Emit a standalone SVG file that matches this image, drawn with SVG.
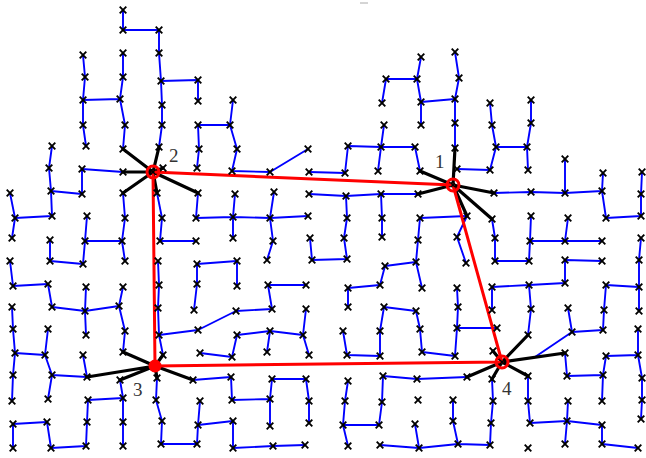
<svg xmlns="http://www.w3.org/2000/svg" xmlns:xlink="http://www.w3.org/1999/xlink" width="646" height="458" viewBox="0 0 646 458">
<style>
.blue{fill:none;stroke:#0000ff;stroke-width:1.9;stroke-linejoin:round;stroke-linecap:round}
.spoke{fill:none;stroke:#000;stroke-width:3.2;stroke-linecap:round}
.red{fill:none;stroke:#ff0000;stroke-width:3;stroke-linejoin:round}
.ring{fill:none;stroke:#ff0000;stroke-width:3}
.lbl{font-family:"Liberation Serif","DejaVu Serif",serif;font-size:19px;fill:#333}
</style>
<defs>
<path id="m" d="M-3.3,-3.3L3.3,3.3M-3.3,3.3L3.3,-3.3" stroke="#000" stroke-width="1.9" fill="none"/>
<path id="hm" d="M-2,-2L2,2M-2,2L2,-2" stroke="#000" stroke-width="1.6" fill="none"/>
</defs>
<rect width="646" height="458" fill="#fff"/>
<line x1="360" y1="3" x2="368" y2="3" stroke="#aaa" stroke-width="1"/>
<g id="connectors">
<path class="blue" d="M123 10L123 30L159 30L159 53L161 81L198 80L198 101
M161 81L162 105L162 125L159 147
M83 55L85 77L83 100L83 125L86 146 M83 100L120 99
M123 53L123 77L120 99L125 125L123 149
M52 146L49 168L51 191L82 194L82 169L123 172
M10 193L15 218L12 238 M15 218L52 216L51 191
M87 216L85 241
M123 193L125 218L122 241L125 261
M157 193L162 218L160 241L196 241
M198 193L196 218L233 217L270 218L308 216
M198 125L199 149L197 168 M198 125L230 125
M233 100L230 125L237 149L232 171L270 172L308 149
M309 172L345 173L348 146L381 147L415 147L420 171
M384 125L381 147L378 171
M382 103L386 79L417 79L421 57 M417 79L421 102L421 125 M421 102L455 99
M455 52L459 78L455 99L455 123L455 148
M457 169L490 170L496 147L492 125L490 103
M496 147L527 147L531 123L531 100 M527 147L528 170
M309 194L346 196L381 194L418 194
M494 193L531 192L565 193L602 191 M565 159L565 193
M603 173L602 191L606 218L641 216L641 194L642 172
M235 194L233 217L233 238
M274 192L270 218L273 241L267 260
M346 196L347 218L344 238L347 259L312 260L310 238
M381 194L382 218L382 237
M420 218L467 216 M420 218L418 240L416 262L385 266L380 285L348 288L348 307
M416 262L422 288
M467 216L457 237L466 263
M492 219L495 238L495 261L529 261L530 241L531 216
M530 241L565 241L602 241 M568 218L565 241
M602 261L565 260L565 283L529 285L492 287L492 310
M529 285L531 309L528 335
M641 238L639 260L639 287L639 311
M606 285L639 287 M568 308L572 332L603 330L604 310L606 285
M572 332L535 357
M638 329L638 355L642 378L642 400L641 419
M606 356L638 355 M565 353L567 376L603 375L606 356 M603 375L602 401
M457 288L458 307L457 328L497 328
M457 328L455 356L422 352L420 329L416 311L384 307L380 331L380 356L347 355L343 331
M10 261L13 286L48 284L52 307L85 311L119 306L123 287
M119 306L125 331L123 352
M86 287L85 311L86 335
M50 240L50 261L83 264L85 241L122 241
M12 307L13 329L15 353L13 375L12 401
M15 353L45 355L48 329 M45 355L52 375L87 377 M52 375L48 399 M83 355L87 377
M120 380L123 398L88 400L87 422L86 446L51 448L47 422L13 424L13 448
M123 398L123 422L123 446
M197 264L237 261L237 286 M197 264L197 284L194 310
M158 261L159 285L158 308L159 335L198 330L236 311L272 309L268 285L306 285
M159 335L163 355
M200 353L232 357L237 335L270 331L303 335L306 309
M270 331L267 352 M303 335L309 355
M193 380L231 377L232 400L270 399L272 379L306 379L309 401L309 423
M270 399L270 426
M157 378L156 400L162 421L161 444L197 444L198 425L200 401
M198 425L233 421L233 448L273 446L305 445
M348 381L345 401L343 425L348 446
M343 425L379 425L382 402L383 376L417 379L467 377
M415 424L419 448L380 445 M419 448L458 444
M453 400L453 421L458 444L490 445L491 423L493 401L492 379
M528 376L528 401L530 423L567 421L602 425L602 444L638 448
M568 401L567 421L565 444"/>
<path class="spoke" d="M153 172L123 149M153 172L159 147M153 172L123 172M153 172L123 193M153 172L198 193M153 172L163 168M153 172L157 193
M453 185L455 148M453 185L420 171M453 185L418 194M453 185L494 193M453 185L467 216M453 185L492 219
M155 366L123 352M155 366L87 377M155 366L120 380M155 366L157 378M155 366L193 380M155 366L163 355
M502 362L528 335M502 362L565 353M502 362L528 376M502 362L492 379M502 362L467 377M502 362L493 351"/>
<path class="red" d="M153 172L453 185L502 362L155 366Z"/>
</g>
<g id="sensors">
<use href="#m" x="10" y="193"/><use href="#m" x="15" y="218"/><use href="#m" x="12" y="238"/><use href="#m" x="10" y="261"/><use href="#m" x="13" y="286"/><use href="#m" x="12" y="307"/><use href="#m" x="13" y="329"/><use href="#m" x="15" y="353"/><use href="#m" x="13" y="375"/><use href="#m" x="12" y="401"/><use href="#m" x="13" y="424"/><use href="#m" x="13" y="448"/>
<use href="#m" x="52" y="146"/><use href="#m" x="49" y="168"/><use href="#m" x="51" y="191"/><use href="#m" x="52" y="216"/><use href="#m" x="50" y="240"/><use href="#m" x="50" y="261"/><use href="#m" x="48" y="284"/><use href="#m" x="52" y="307"/><use href="#m" x="48" y="329"/><use href="#m" x="45" y="355"/><use href="#m" x="52" y="375"/><use href="#m" x="48" y="399"/><use href="#m" x="47" y="422"/><use href="#m" x="51" y="448"/>
<use href="#m" x="83" y="55"/><use href="#m" x="85" y="77"/><use href="#m" x="83" y="100"/><use href="#m" x="83" y="125"/><use href="#m" x="86" y="146"/><use href="#m" x="82" y="169"/><use href="#m" x="82" y="194"/><use href="#m" x="87" y="216"/><use href="#m" x="85" y="241"/><use href="#m" x="83" y="264"/><use href="#m" x="86" y="287"/><use href="#m" x="85" y="311"/><use href="#m" x="86" y="335"/><use href="#m" x="83" y="355"/><use href="#m" x="87" y="377"/><use href="#m" x="88" y="400"/><use href="#m" x="87" y="422"/><use href="#m" x="86" y="446"/>
<use href="#m" x="123" y="10"/><use href="#m" x="123" y="30"/><use href="#m" x="123" y="53"/><use href="#m" x="123" y="77"/><use href="#m" x="120" y="99"/><use href="#m" x="125" y="125"/><use href="#m" x="123" y="149"/><use href="#m" x="123" y="172"/><use href="#m" x="123" y="193"/><use href="#m" x="125" y="218"/><use href="#m" x="122" y="241"/><use href="#m" x="125" y="261"/><use href="#m" x="123" y="287"/><use href="#m" x="119" y="306"/><use href="#m" x="125" y="331"/><use href="#m" x="123" y="352"/><use href="#m" x="120" y="380"/><use href="#m" x="123" y="398"/><use href="#m" x="123" y="422"/><use href="#m" x="123" y="446"/>
<use href="#m" x="159" y="30"/><use href="#m" x="159" y="53"/><use href="#m" x="161" y="81"/><use href="#m" x="162" y="105"/><use href="#m" x="162" y="125"/><use href="#m" x="159" y="147"/><use href="#m" x="163" y="168"/><use href="#m" x="157" y="193"/><use href="#m" x="162" y="218"/><use href="#m" x="160" y="241"/><use href="#m" x="158" y="261"/><use href="#m" x="159" y="285"/><use href="#m" x="158" y="308"/><use href="#m" x="159" y="335"/><use href="#m" x="163" y="355"/><use href="#m" x="157" y="378"/><use href="#m" x="156" y="400"/><use href="#m" x="162" y="421"/><use href="#m" x="161" y="444"/>
<use href="#m" x="198" y="80"/><use href="#m" x="198" y="101"/><use href="#m" x="198" y="125"/><use href="#m" x="199" y="149"/><use href="#m" x="197" y="168"/><use href="#m" x="198" y="193"/><use href="#m" x="196" y="218"/><use href="#m" x="196" y="241"/><use href="#m" x="197" y="264"/><use href="#m" x="197" y="284"/><use href="#m" x="194" y="310"/><use href="#m" x="198" y="330"/><use href="#m" x="200" y="353"/><use href="#m" x="193" y="380"/><use href="#m" x="200" y="401"/><use href="#m" x="198" y="425"/><use href="#m" x="197" y="444"/>
<use href="#m" x="233" y="100"/><use href="#m" x="230" y="125"/><use href="#m" x="237" y="149"/><use href="#m" x="232" y="171"/><use href="#m" x="235" y="194"/><use href="#m" x="233" y="217"/><use href="#m" x="233" y="238"/><use href="#m" x="237" y="261"/><use href="#m" x="237" y="286"/><use href="#m" x="236" y="311"/><use href="#m" x="237" y="335"/><use href="#m" x="232" y="357"/><use href="#m" x="231" y="377"/><use href="#m" x="232" y="400"/><use href="#m" x="233" y="421"/><use href="#m" x="233" y="448"/>
<use href="#m" x="270" y="172"/><use href="#m" x="274" y="192"/><use href="#m" x="270" y="218"/><use href="#m" x="273" y="241"/><use href="#m" x="267" y="260"/><use href="#m" x="268" y="285"/><use href="#m" x="272" y="309"/><use href="#m" x="270" y="331"/><use href="#m" x="267" y="352"/><use href="#m" x="272" y="379"/><use href="#m" x="270" y="399"/><use href="#m" x="270" y="426"/><use href="#m" x="273" y="446"/>
<use href="#m" x="308" y="149"/><use href="#m" x="309" y="172"/><use href="#m" x="309" y="194"/><use href="#m" x="308" y="216"/><use href="#m" x="310" y="238"/><use href="#m" x="312" y="260"/><use href="#m" x="306" y="285"/><use href="#m" x="306" y="309"/><use href="#m" x="303" y="335"/><use href="#m" x="309" y="355"/><use href="#m" x="306" y="379"/><use href="#m" x="309" y="401"/><use href="#m" x="309" y="423"/><use href="#m" x="305" y="445"/>
<use href="#m" x="348" y="146"/><use href="#m" x="345" y="173"/><use href="#m" x="346" y="196"/><use href="#m" x="347" y="218"/><use href="#m" x="344" y="238"/><use href="#m" x="347" y="259"/><use href="#m" x="348" y="288"/><use href="#m" x="348" y="307"/><use href="#m" x="343" y="331"/><use href="#m" x="347" y="355"/><use href="#m" x="348" y="381"/><use href="#m" x="345" y="401"/><use href="#m" x="343" y="425"/><use href="#m" x="348" y="446"/>
<use href="#m" x="386" y="79"/><use href="#m" x="382" y="103"/><use href="#m" x="384" y="125"/><use href="#m" x="381" y="147"/><use href="#m" x="378" y="171"/><use href="#m" x="381" y="194"/><use href="#m" x="382" y="218"/><use href="#m" x="382" y="237"/><use href="#m" x="385" y="266"/><use href="#m" x="380" y="285"/><use href="#m" x="384" y="307"/><use href="#m" x="380" y="331"/><use href="#m" x="380" y="356"/><use href="#m" x="383" y="376"/><use href="#m" x="382" y="402"/><use href="#m" x="379" y="425"/><use href="#m" x="380" y="445"/>
<use href="#m" x="421" y="57"/><use href="#m" x="417" y="79"/><use href="#m" x="421" y="102"/><use href="#m" x="421" y="125"/><use href="#m" x="415" y="147"/><use href="#m" x="420" y="171"/><use href="#m" x="418" y="194"/><use href="#m" x="420" y="218"/><use href="#m" x="418" y="240"/><use href="#m" x="416" y="262"/><use href="#m" x="422" y="288"/><use href="#m" x="416" y="311"/><use href="#m" x="420" y="329"/><use href="#m" x="422" y="352"/><use href="#m" x="417" y="379"/><use href="#m" x="418" y="400"/><use href="#m" x="415" y="424"/><use href="#m" x="419" y="448"/>
<use href="#m" x="455" y="52"/><use href="#m" x="459" y="78"/><use href="#m" x="455" y="99"/><use href="#m" x="455" y="123"/><use href="#m" x="455" y="148"/><use href="#m" x="457" y="169"/><use href="#m" x="467" y="216"/><use href="#m" x="457" y="237"/><use href="#m" x="466" y="263"/><use href="#m" x="457" y="288"/><use href="#m" x="458" y="307"/><use href="#m" x="457" y="328"/><use href="#m" x="455" y="356"/><use href="#m" x="467" y="377"/><use href="#m" x="453" y="400"/><use href="#m" x="453" y="421"/><use href="#m" x="458" y="444"/>
<use href="#m" x="490" y="103"/><use href="#m" x="492" y="125"/><use href="#m" x="496" y="147"/><use href="#m" x="490" y="170"/><use href="#m" x="494" y="193"/><use href="#m" x="492" y="219"/><use href="#m" x="495" y="238"/><use href="#m" x="495" y="261"/><use href="#m" x="492" y="287"/><use href="#m" x="492" y="310"/><use href="#m" x="497" y="328"/><use href="#m" x="493" y="351"/><use href="#m" x="492" y="379"/><use href="#m" x="493" y="401"/><use href="#m" x="491" y="423"/><use href="#m" x="490" y="445"/>
<use href="#m" x="531" y="100"/><use href="#m" x="531" y="123"/><use href="#m" x="527" y="147"/><use href="#m" x="528" y="170"/><use href="#m" x="531" y="192"/><use href="#m" x="531" y="216"/><use href="#m" x="530" y="241"/><use href="#m" x="529" y="261"/><use href="#m" x="529" y="285"/><use href="#m" x="531" y="309"/><use href="#m" x="528" y="335"/><use href="#m" x="528" y="376"/><use href="#m" x="528" y="401"/><use href="#m" x="530" y="423"/><use href="#m" x="528" y="448"/>
<use href="#m" x="565" y="159"/><use href="#m" x="565" y="193"/><use href="#m" x="568" y="218"/><use href="#m" x="565" y="241"/><use href="#m" x="565" y="260"/><use href="#m" x="565" y="283"/><use href="#m" x="568" y="308"/><use href="#m" x="572" y="332"/><use href="#m" x="565" y="353"/><use href="#m" x="567" y="376"/><use href="#m" x="568" y="401"/><use href="#m" x="567" y="421"/><use href="#m" x="565" y="444"/>
<use href="#m" x="603" y="173"/><use href="#m" x="602" y="191"/><use href="#m" x="606" y="218"/><use href="#m" x="602" y="241"/><use href="#m" x="602" y="261"/><use href="#m" x="606" y="285"/><use href="#m" x="604" y="310"/><use href="#m" x="603" y="330"/><use href="#m" x="606" y="356"/><use href="#m" x="603" y="375"/><use href="#m" x="602" y="401"/><use href="#m" x="602" y="425"/><use href="#m" x="602" y="444"/>
<use href="#m" x="642" y="172"/><use href="#m" x="641" y="194"/><use href="#m" x="641" y="216"/><use href="#m" x="641" y="238"/><use href="#m" x="639" y="260"/><use href="#m" x="639" y="287"/><use href="#m" x="639" y="311"/><use href="#m" x="638" y="329"/><use href="#m" x="638" y="355"/><use href="#m" x="642" y="378"/><use href="#m" x="642" y="400"/><use href="#m" x="641" y="419"/><use href="#m" x="638" y="448"/>
</g>
<g id="hub1"><circle class="ring" cx="453" cy="185" r="6"/><use href="#hm" x="453" y="185"/><text class="lbl" x="435" y="168">1</text></g>
<g id="hub2"><circle class="ring" cx="153" cy="172" r="6"/><use href="#hm" x="153" y="172"/><text class="lbl" x="169" y="162">2</text></g>
<g id="hub3"><circle cx="155" cy="366" r="6.5" fill="#ff0000"/><text class="lbl" x="133" y="396">3</text></g>
<g id="hub4"><circle class="ring" cx="502" cy="362" r="6"/><use href="#hm" x="502" y="362"/><text class="lbl" x="502" y="395">4</text></g>
</svg>
